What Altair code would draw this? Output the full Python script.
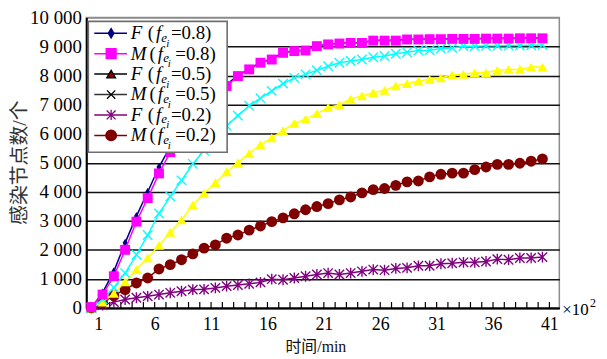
import altair as alt
import pandas as pd

# ---------------- data ----------------
k_values = list(range(1, 42))

F08 = [0, 530, 1260, 2240, 3160, 3990, 4850, 5550, 6100, 6600,
       7020, 7380, 7700, 8000, 8230, 8450, 8570, 8790, 8850, 8870,
       9020, 9080, 9110, 9130, 9130, 9210, 9210, 9210, 9250, 9250,
       9260, 9260, 9270, 9270, 9270, 9280, 9280, 9280, 9290, 9290, 9290]
M08 = [30, 460, 1090, 2000, 2970, 3780, 4630, 5360, 5950, 6480,
       6920, 7300, 7640, 7980, 8210, 8440, 8550, 8780, 8840, 8860,
       9010, 9070, 9100, 9120, 9120, 9200, 9200, 9200, 9240, 9240,
       9250, 9250, 9260, 9260, 9260, 9270, 9270, 9270, 9280, 9280, 9280]
F05 = [0, 200, 500, 900, 1320, 1720, 2150, 2600, 3030, 3540,
       3940, 4310, 4680, 5000, 5320, 5620, 5850, 6100, 6350, 6500,
       6690, 6900, 6990, 7190, 7300, 7410, 7490, 7640, 7720, 7810,
       7870, 7920, 8020, 8040, 8100, 8100, 8180, 8210, 8210, 8290, 8290]
M05 = [0, 300, 700, 1200, 1830, 2510, 3250, 3840, 4390, 4960,
       5420, 5870, 6270, 6620, 6960, 7220, 7470, 7720, 7920, 8040,
       8180, 8320, 8440, 8500, 8550, 8630, 8670, 8750, 8800, 8860,
       8870, 8930, 8950, 9010, 9010, 9020, 9020, 9030, 9030, 9040, 9050]
F02 = [0, 100, 200, 290, 350, 400, 460, 520, 575, 630,
       640, 690, 750, 790, 830, 880, 990, 970, 1030, 1090,
       1150, 1200, 1150, 1200, 1260, 1320, 1300, 1360, 1380, 1450,
       1450, 1520, 1540, 1570, 1570, 1600, 1680, 1660, 1720, 1720, 1750]
M02 = [0, 180, 430, 630, 860, 1030, 1340, 1490, 1660, 1860,
       2060, 2170, 2400, 2510, 2680, 2820, 2970, 3100, 3240, 3380,
       3490, 3590, 3720, 3820, 3960, 4070, 4110, 4220, 4340, 4370,
       4510, 4600, 4640, 4640, 4760, 4850, 4940, 4940, 4980, 5050, 5130]

series_values = {"F08": F08, "M08": M08, "F05": F05, "M05": M05, "F02": F02, "M02": M02}
draw_order = ["F02", "M02", "F05", "M05", "F08", "M08"]

x_label_values = [1, 6, 11, 16, 21, 26, 31, 36, 41]
y_tick_values = [0, 1000, 2000, 3000, 4000, 5000, 6000, 7000, 8000, 9000, 10000]
y_tick_labels = ["0", "1 000", "2 000", "3 000", "4 000", "5 000",
                 "6 000", "7 000", "8 000", "9 000", "10 000"]

legend_order = ["F08", "M08", "F05", "M05", "F02", "M02"]
legend_letters = ["F", "M", "F", "M", "F", "M"]
legend_fracs = ["0.8", "0.8", "0.5", "0.5", "0.2", "0.2"]

x_title = "时间/min"
y_title = "感染节点数/个"

# ---------------- build ----------------
rows = []
for key in draw_order:
    for k, v in zip(k_values, series_values[key]):
        rows.append({"series": key, "k": k, "v": v})
df = pd.DataFrame(rows)
tick_df = pd.DataFrame({"k": [k - 1 + 0.62 for k in k_values] + [41.62]})
dummy = pd.DataFrame({"a": [0]})

W, H = 477, 293
SERIF = "Liberation Serif, Times New Roman, serif"
CJK = "Liberation Serif, Noto Sans CJK SC"

xscale = alt.Scale(domain=[0.56, 42.5], nice=False, zero=False)
yscale = alt.Scale(domain=[0, 10000], nice=False)

label_expr = "[" + ",".join("'%s'" % s for s in y_tick_labels) + "][round(datum.value/1000)]"

x_axis = alt.Axis(values=x_label_values, labelOffset=7, ticks=False, grid=False,
                  domainColor="black", domainWidth=2, labelFont=SERIF, labelFontSize=18,
                  labelColor="black", labelPadding=8, labelFlush=False, labelOverlap=False,
                  title=x_title, titleFont=CJK, titleFontSize=16, titleFontWeight="normal",
                  titleColor="#111111", titleX=231, titleY=44, titleBaseline="alphabetic",
                  titleAlign="center")
y_axis = alt.Axis(values=y_tick_values, labelExpr=label_expr, ticks=False, grid=True,
                  gridColor={"condition": {"test": "datum.value === 10000", "value": "#8c8c8c"},
                             "value": "#111111"},
                  gridWidth=1.5, domainColor="black", domainWidth=2,
                  labelFont=SERIF, labelFontSize=19, labelColor="black", labelPadding=5,
                  labelOverlap=False,
                  title=y_title, titleFont=CJK, titleFontSize=20, titleFontWeight="normal",
                  titleColor="#333333", titleX=-67, titleY=146, titleAngle=270,
                  titleAlign="center", titleBaseline="middle")

X = alt.X("k:Q", scale=xscale, axis=x_axis)
Y = alt.Y("v:Q", scale=yscale, axis=y_axis)

diamond = "M0,-1L0.6,0L0,1L-0.6,0Z"
xshape = "M-1,-1L1,1M-1,1L1,-1"
asterisk = "M-1,-1L1,1M-1,1L1,-1M0,-1.15L0,1.15"

styles = {
    "F08": dict(color="#000080", shape=diamond, size=70, filled=True),
    "M08": dict(color="#FF00FF", shape="square", size=100, filled=True),
    "F05": dict(color="#FFFF00", shape="triangle-up", size=105, filled=True),
    "M05": dict(color="#00FFFF", shape=xshape, size=90, filled=False),
    "F02": dict(color="#800080", shape=asterisk, size=90, filled=False),
    "M02": dict(color="#800000", shape="circle", size=120, filled=True),
}

layers = []
# inward minor ticks on the x axis
layers.append(alt.Chart(tick_df).mark_rule(color="black", strokeWidth=1.2).encode(
    x=X, y=alt.value(H), y2=alt.value(H - 6)))

for key in draw_order:
    st = styles[key]
    base = alt.Chart(df).transform_filter(alt.datum.series == key)
    layers.append(base.mark_line(color=st["color"], strokeWidth=1.5).encode(x=X, y=Y))
    layers.append(base.mark_point(shape=st["shape"], size=st["size"], filled=st["filled"],
                                  color=st["color"], opacity=1, strokeWidth=1.4).encode(x=X, y=Y))

# ---------------- legend (drawn inside the plot) ----------------
layers.append(alt.Chart(dummy).mark_rect(fill="white", stroke="#6e6e6e", strokeWidth=1.6).encode(
    x=alt.value(2), x2=alt.value(142), y=alt.value(4), y2=alt.value(136)))

legend_styles = {
    "F08": dict(line="#000080", shape=diamond, size=90, fill="#000080", stroke="#000080", filled=True),
    "M08": dict(line="#FF00FF", shape="square", size=100, fill="#FF00FF", stroke="#FF00FF", filled=True),
    "F05": dict(line="#000000", shape="triangle-up", size=80, fill="#800000", stroke="#000000", filled=True),
    "M05": dict(line="#333333", shape=xshape, size=70, fill=None, stroke="#000000", filled=False),
    "F02": dict(line="#800080", shape=asterisk, size=80, fill=None, stroke="#800080", filled=False),
    "M02": dict(line="#800000", shape="circle", size=115, fill="#800000", stroke="#800000", filled=True),
}

for i, key in enumerate(legend_order):
    yc = 16 + 20.6 * i
    ls = legend_styles[key]
    layers.append(alt.Chart(dummy).mark_rule(color=ls["line"], strokeWidth=1.5).encode(
        x=alt.value(8), x2=alt.value(41), y=alt.value(yc)))
    pkw = dict(shape=ls["shape"], size=ls["size"], filled=ls["filled"], opacity=1, strokeWidth=1.3,
               stroke=ls["stroke"])
    if ls["fill"]:
        pkw["fill"] = ls["fill"]
    layers.append(alt.Chart(dummy).mark_point(**pkw).encode(x=alt.value(25), y=alt.value(yc)))

    is_m = legend_letters[i] == "M"
    shift = 1.7 if is_m else 0.0
    base_y = yc + 6
    pieces = [
        (legend_letters[i], 44.7, base_y, 19, "italic"),
        ("(", 62 + shift, base_y, 19, "normal"),
        ("f", 70.3 + shift, base_y, 19, "italic"),
        ("e", 75.5 + shift * 1.2, base_y + 2.5, 13, "italic"),
        ("i", 80.5 + shift * 0.9, base_y + 7.5, 11, "italic"),
        ("=" + legend_fracs[i] + ")", 85.3 + (4.4 if is_m else 0.0), base_y, 19, "normal"),
    ]
    for txt, px, py, fs, fst in pieces:
        layers.append(alt.Chart(dummy).mark_text(text=txt, font=SERIF, fontSize=fs, fontStyle=fst,
                                                 align="left", baseline="alphabetic",
                                                 color="black").encode(
            x=alt.value(px), y=alt.value(py)))

# "x10^2" multiplier at the end of the x axis
layers.append(alt.Chart(dummy).mark_text(text="×10", font=SERIF, fontSize=17, align="left",
                                         baseline="alphabetic", color="black").encode(
    x=alt.value(480), y=alt.value(300)))
layers.append(alt.Chart(dummy).mark_text(text="2", font=SERIF, fontSize=12, align="left",
                                         baseline="alphabetic", color="black").encode(
    x=alt.value(508), y=alt.value(292)))

chart = alt.layer(*layers).properties(
    width=W, height=H,
    padding={"left": 79, "top": 8, "right": 40, "bottom": 48},
    autosize=alt.AutoSizeParams(type="none"),
).configure_view(stroke="#8c8c8c", strokeWidth=1.5)

chart.save("out.html", embed_options={"renderer": "svg", "actions": False})
